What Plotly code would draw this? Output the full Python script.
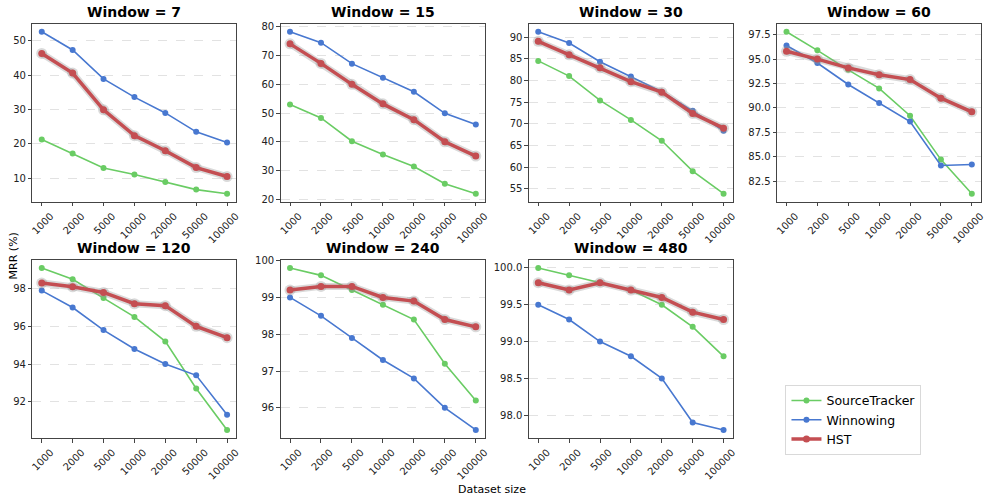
import plotly.graph_objects as go

sizes = ["1000", "2000", "5000", "10000", "20000", "50000", "100000"]
windows = [7, 15, 30, 60, 120, 240, 480]

source_tracker = [
    [21.3, 17.2, 13.0, 11.1, 8.9, 6.7, 5.5],
    [53.0, 48.3, 40.2, 35.6, 31.4, 25.4, 21.9],
    [84.5, 81.0, 75.4, 70.9, 66.1, 59.1, 53.9],
    [97.8, 95.9, 93.9, 92.0, 89.2, 84.7, 81.2],
    [99.1, 98.5, 97.5, 96.5, 95.2, 92.7, 90.5],
    [99.8, 99.6, 99.2, 98.8, 98.4, 97.2, 96.2],
    [100.0, 99.9, 99.8, 99.7, 99.5, 99.2, 98.8],
]
winnowing = [
    [52.6, 47.3, 38.9, 33.6, 29.0, 23.5, 20.4],
    [78.3, 74.5, 67.2, 62.3, 57.4, 49.9, 46.0],
    [91.2, 88.6, 84.3, 80.9, 77.4, 73.0, 68.4],
    [96.4, 94.6, 92.4, 90.5, 88.6, 84.1, 84.2],
    [97.9, 97.0, 95.8, 94.8, 94.0, 93.4, 91.3],
    [99.0, 98.5, 97.9, 97.3, 96.8, 96.0, 95.4],
    [99.5, 99.3, 99.0, 98.8, 98.5, 97.9, 97.8],
]
hst = [
    [46.3, 40.6, 29.9, 22.4, 18.0, 13.1, 10.5],
    [74.1, 67.3, 60.0, 53.2, 47.7, 40.0, 35.0],
    [89.0, 85.9, 82.9, 79.7, 77.3, 72.4, 69.0],
    [95.8, 95.0, 94.1, 93.4, 92.9, 91.0, 89.6],
    [98.3, 98.1, 97.8, 97.2, 97.1, 96.0, 95.4],
    [99.2, 99.3, 99.3, 99.0, 98.9, 98.4, 98.2],
    [99.8, 99.7, 99.8, 99.7, 99.6, 99.4, 99.3],
]
y_dticks = [10, 10, 5, 2.5, 2, 1, 0.5]
y_formats = ["d", "d", "d", ".1f", "d", "d", ".1f"]

W, H = 997, 504
x_px = [(30.7, 236.0), (280.7, 486.5), (530.7, 736.0), (780.7, 986.0)]
y_px = [(19.0, 200.0), (259.0, 440.0)]

GREEN = "#6acc64"
BLUE = "#4878d0"
RED = "#c44e52"
FONT = "DejaVu Sans"

fig = go.Figure()
annotations = []

for i, w in enumerate(windows):
    r, c = divmod(i, 4)
    ax = "" if i == 0 else str(i + 1)
    xref, yref = "x" + ax, "y" + ax
    xd = [x_px[c][0] / W, x_px[c][1] / W]
    yd = [1 - y_px[r][1] / H, 1 - y_px[r][0] / H]
    allv = source_tracker[i] + winnowing[i] + hst[i]
    lo, hi = min(allv), max(allv)
    pad = 0.05 * (hi - lo)
    common_ax = dict(showline=True, mirror=True, linecolor="#444444", linewidth=1.2,
                     ticks="outside", ticklen=3.5, tickwidth=1, tickcolor="#444444",
                     tickfont=dict(family=FONT, size=10, color="#222222"), zeroline=False)
    fig.update_layout({
        "xaxis" + ax: dict(domain=xd, anchor=yref, type="category", range=[-0.3, 6.3],
                           tickangle=-45, showgrid=False, ticklabelshift=9, **common_ax),
        "yaxis" + ax: dict(domain=yd, anchor=xref, range=[lo - pad, hi + pad],
                           dtick=y_dticks[i], tick0=0, tickformat=y_formats[i],
                           showgrid=True, gridcolor="#e2e2e2", gridwidth=0.8, griddash="dash",
                           **common_ax),
    })
    first = i == 0
    fig.add_trace(go.Scatter(x=sizes, y=source_tracker[i], mode="lines+markers", name="SourceTracker",
                             line=dict(color=GREEN, width=1.6), marker=dict(color=GREEN, size=6),
                             showlegend=first, legendrank=1, xaxis=xref, yaxis=yref))
    fig.add_trace(go.Scatter(x=sizes, y=winnowing[i], mode="lines+markers", name="Winnowing",
                             line=dict(color=BLUE, width=1.6), marker=dict(color=BLUE, size=6),
                             showlegend=first, legendrank=2, xaxis=xref, yaxis=yref))
    # grey halo under HST
    fig.add_trace(go.Scatter(x=sizes, y=hst[i], mode="lines+markers", name="HST halo",
                             line=dict(color="rgba(150,150,150,0.35)", width=7),
                             marker=dict(color="rgba(150,150,150,0.35)", size=11),
                             showlegend=False, hoverinfo="skip", xaxis=xref, yaxis=yref))
    fig.add_trace(go.Scatter(x=sizes, y=hst[i], mode="lines+markers", name="HST",
                             line=dict(color=RED, width=3.5), marker=dict(color=RED, size=7),
                             showlegend=first, legendrank=3, xaxis=xref, yaxis=yref))
    annotations.append(dict(text="<b>Window = %d</b>" % w, x=(xd[0] + xd[1]) / 2, y=yd[1],
                            xref="paper", yref="paper", xanchor="center", yanchor="bottom",
                            yshift=2, showarrow=False, font=dict(family=FONT, size=14, color="black")))

annotations.append(dict(text="MRR (%)", x=3 / W, y=1 - 255 / H, xref="paper", yref="paper",
                        xanchor="left", yanchor="middle", textangle=-90, showarrow=False,
                        font=dict(family=FONT, size=11, color="black")))
annotations.append(dict(text="Dataset size", x=493 / W, y=1 - 492 / H, xref="paper", yref="paper",
                        xanchor="center", yanchor="middle", showarrow=False,
                        font=dict(family=FONT, size=11, color="black")))

fig.update_layout(
    width=W, height=H,
    margin=dict(l=0, r=0, t=0, b=0),
    paper_bgcolor="white", plot_bgcolor="white",
    annotations=annotations,
    font=dict(family=FONT),
    legend=dict(x=789 / W, y=1 - 386 / H, xanchor="left", yanchor="top",
                bgcolor="white", bordercolor="#d9d9d9", borderwidth=1,
                font=dict(family=FONT, size=12.5, color="black"), itemwidth=30,
                tracegroupgap=0),
)

fig.write_html("out.html")
